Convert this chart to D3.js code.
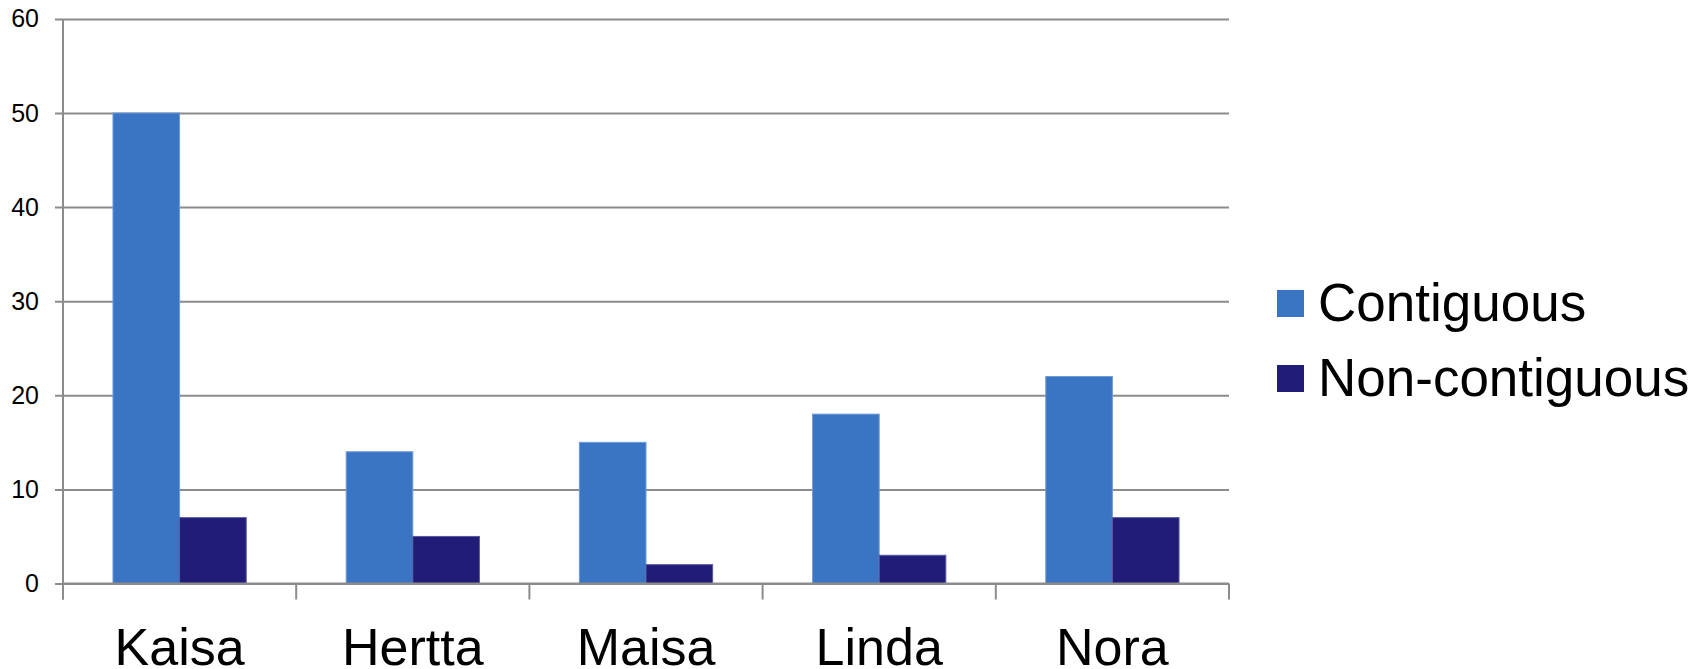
<!DOCTYPE html>
<html>
<head>
<meta charset="utf-8">
<script src="https://cdn.jsdelivr.net/npm/d3@7"></script>
<style>
  html, body { margin: 0; padding: 0; background: #fff; }
  svg { display: block; font-family: "Liberation Sans", Arial, sans-serif; }
</style>
</head>
<body>
<svg id="chart" width="1707" height="669"></svg>
<script>
// Category names and series values
const categories = ["Kaisa", "Hertta", "Maisa", "Linda", "Nora"];
const seriesNames = ["Contiguous", "Non-contiguous"];
const contiguous = [50, 14, 15, 18, 22];
const nonContiguous = [7, 5, 2, 3, 7];
const yTicks = [0, 10, 20, 30, 40, 50, 60];

const colors = ["#3a75c4", "#201c78"];
const strokes = ["#6f9bd6", "#5a58a0"];
const gridColor = "#8c8c8c";

const svg = d3.select("#chart");
const plot = { left: 63, right: 1229, top: 18.9, bottom: 583.5 };

const x = d3.scaleBand().domain(categories).range([plot.left, plot.right]).paddingInner(0).paddingOuter(0);
const xs = d3.scaleBand().domain(seriesNames).range([0, x.bandwidth()]).paddingInner(0).paddingOuter(0.75);
const y = d3.scaleLinear().domain([0, 60]).range([plot.bottom, plot.top]);

// Horizontal gridlines with left tick marks
const yAxis = d3.axisLeft(y).tickValues(yTicks).tickSize(-(plot.right - plot.left)).tickPadding(24).tickSizeOuter(0);
const gy = svg.append("g").attr("transform", `translate(${plot.left},0)`).call(yAxis);
gy.select(".domain").remove();
gy.selectAll(".tick line").attr("stroke", gridColor).attr("stroke-width", 2).attr("x1", -8);
gy.selectAll(".tick text").attr("font-size", 25).attr("fill", "#000");

// Bars
const data = categories.map((c, i) => ({ cat: c, values: [contiguous[i], nonContiguous[i]] }));
const groups = svg.append("g").selectAll("g").data(data).join("g")
  .attr("transform", d => `translate(${x(d.cat)},0)`);
groups.selectAll("rect").data(d => d.values.map((v, k) => ({ v, k })))
  .join("rect")
  .attr("x", d => xs(seriesNames[d.k]))
  .attr("width", xs.bandwidth())
  .attr("y", d => y(d.v))
  .attr("height", d => y(0) - y(d.v))
  .attr("fill", d => colors[d.k])
  .attr("stroke", d => strokes[d.k])
  .attr("stroke-width", 1);

// Category axis along the baseline, with vertical axis line
const xAxis = d3.axisBottom(x).tickSize(0).tickPadding(0);
const gx = svg.append("g").attr("transform", `translate(0,${plot.bottom})`).call(xAxis);
gx.select(".domain").remove();
gx.selectAll(".tick text").attr("font-size", 52).attr("fill", "#000").attr("y", 81).attr("dy", 0);

svg.append("line").attr("x1", plot.left).attr("x2", plot.right).attr("y1", plot.bottom).attr("y2", plot.bottom)
  .attr("stroke", gridColor).attr("stroke-width", 2);
svg.append("line").attr("x1", plot.left).attr("x2", plot.left).attr("y1", plot.top).attr("y2", plot.bottom + 16)
  .attr("stroke", gridColor).attr("stroke-width", 2);
const boundaries = categories.map(c => x(c)).concat([plot.right]);
svg.append("g").selectAll("line").data(boundaries).join("line")
  .attr("x1", d => d).attr("x2", d => d)
  .attr("y1", plot.bottom).attr("y2", plot.bottom + 16)
  .attr("stroke", gridColor).attr("stroke-width", 2);

// Legend
const legend = svg.append("g").selectAll("g").data(seriesNames).join("g")
  .attr("transform", (d, i) => `translate(1277,${290 + i * 75})`);
legend.append("rect").attr("width", 27).attr("height", 27).attr("fill", (d, i) => colors[i]);
legend.append("text").attr("x", 41).attr("y", 31).attr("font-size", 53).attr("fill", "#000").text(d => d);
</script>
</body>
</html>
